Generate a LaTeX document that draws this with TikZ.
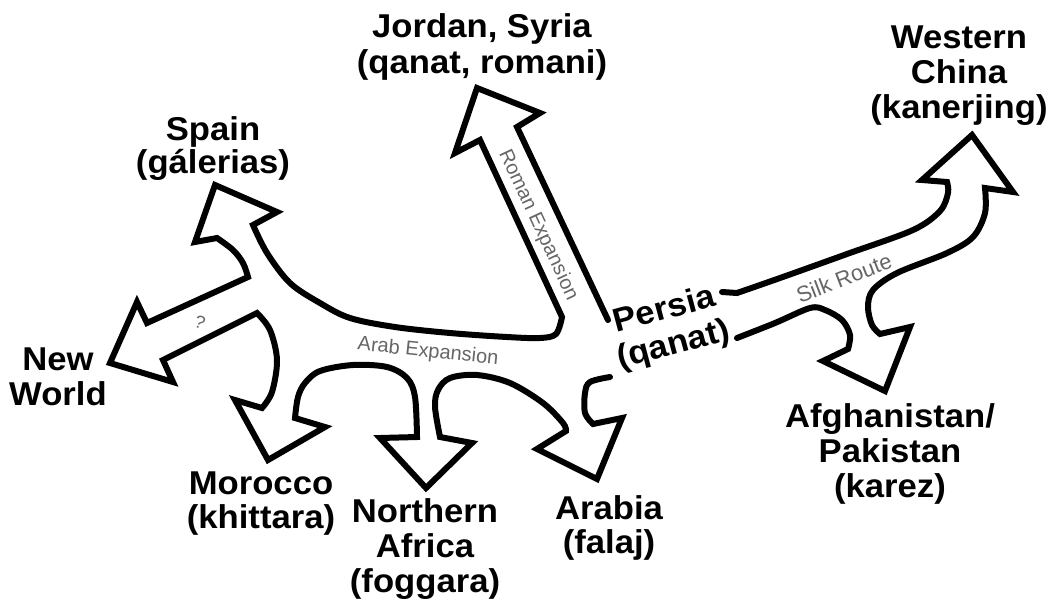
\documentclass[tikz,border=0pt]{standalone}
\usepackage{fontspec}
\setmainfont{Liberation Sans}[FakeStretch=1.05]
\newfontfamily\handfont{Liberation Sans}
\begin{document}
\begin{tikzpicture}[x=1pt,y=-1pt,
  outline/.style={line width=6pt, line join=miter, line cap=round},
  place/.style={font=\fontsize{33}{35}\selectfont\bfseries, align=center, inner sep=0pt, anchor=base},
  route/.style={font=\handfont\fontsize{20}{22}\selectfont, text=black!60, inner sep=0pt}]
\useasboundingbox[fill=white] (0,0) rectangle (1050,598);

% main western network (Roman, Spain, New World, Morocco, N. Africa, Arabia)
\draw[outline] (608,320) -- (517,127) -- (540,113) -- (477,88) -- (455,153) -- (480,140) -- (562,317)
  -- plot[smooth, tension=0.55] coordinates {(562,317) (556,334) (540,338) (507,337) (450,333) (395,327) (350,318) (320,303) (290,283) (267,253) (253,225)}
  -- (277,212) -- (215,185) -- (195,242) -- (217,238)
  -- plot[smooth, tension=0.55] coordinates {(217,238) (233,250) (243,263) (248,277)}
  -- (147,323) -- (137,302) -- (110,363) -- (173,382) -- (163,360) -- (257,313)
  -- plot[smooth, tension=0.55] coordinates {(257,313) (270,330) (277,360) (272,392) (262,408)}
  -- (235,400) -- (268,460) -- (325,427) -- (295,418)
  -- plot[smooth, tension=0.55] coordinates {(295,418) (298,397) (305,383) (320,371) (353,365) (387,367) (407,378) (415,397) (417,437)}
  -- (380,438) -- (426,488) -- (472,443) -- (440,437)
  -- plot[smooth, tension=0.55] coordinates {(440,437) (435,407) (438,390) (450,378) (477,375) (510,383) (543,403) (563,423) (566,431)}
  -- (537,449) -- (597,479) -- (622,418) -- (593,424)
  -- plot[smooth, tension=0.55] coordinates {(593,424) (585,413) (585,393) (590,382) (610,377)};

% Silk Route (Western China, Afghanistan/Pakistan)
\draw[outline] (722,292) -- (737,293)
  -- plot[smooth, tension=0.55] coordinates {(737,293) (780,278) (847,254) (913,230) (940,211) (948,193) (947,182)}
  -- (922,180) -- (972,135) -- (1013,192) -- (985,188)
  -- plot[smooth, tension=0.55] coordinates {(985,188) (985,213) (973,237) (947,253) (897,273) (873,290) (868,307) (872,325) (880,334)}
  -- (910,327) -- (885,391) -- (823,361) -- (848,349)
  -- plot[smooth, tension=0.55] coordinates {(848,349) (850,335) (842,320) (825,310) (810,308) (775,323) (737,338)};

% place labels (anchor = baseline of the last line)
\node[place] (jordan) at (482,73) {Jordan, Syria\\[1pt](qanat, romani)};
\node[place] (spain) at (213,173) {Spain\\[-2pt](gálerias)};
\node[place] (china) at (959,118) {Western\\China\\(kanerjing)};
\node[place] (newworld) at (58,405) {New\\World};
\node[place] (morocco) at (261,528) {Morocco\\[-1pt](khittara)};
\node[place] (nafrica) at (425,592) {Northern\\Africa\\(foggara)};
\node[place] (arabia) at (609,553) {Arabia\\[-1pt](falaj)};
\node[place] (afghan) at (890,497) {Afghanistan/\\Pakistan\\(karez)};
\node[place, rotate=15] (persia) at (676,354) {Persia\\[1pt](qanat)};

% route labels
\node[route, rotate=-65] (roman) at (538,225) {Roman Expansion};
\node[route, rotate=-6] (arab) at (428,352) {Arab Expansion};
\node[route, rotate=21, font=\handfont\fontsize{22}{24}\selectfont] (silk) at (844,278) {Silk Route};
\node[route, rotate=-20, font=\handfont\fontsize{18}{20}\selectfont] (q) at (200,322) {?};
\end{tikzpicture}
\end{document}
